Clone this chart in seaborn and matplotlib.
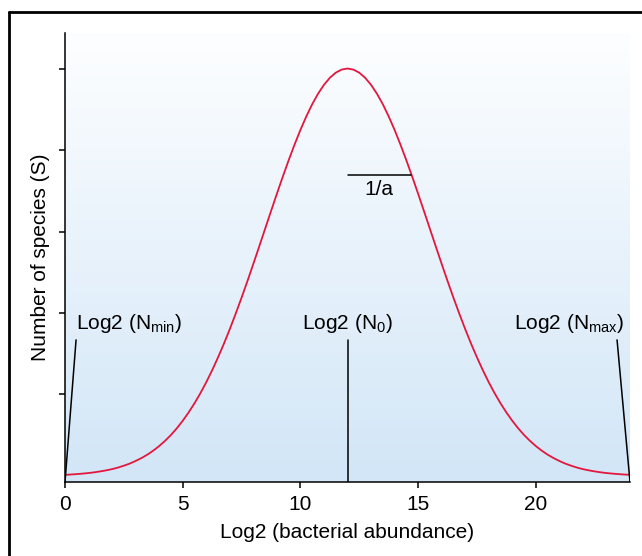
import numpy as np
import pandas as pd
import matplotlib
matplotlib.use("Agg")
import matplotlib.pyplot as plt
from matplotlib.colors import LinearSegmentedColormap
from matplotlib.lines import Line2D
import seaborn as sns

# Values (log2 abundance vs number of species)
log2_abundance = [
    0.0, 0.25, 0.5, 0.75, 1.0, 1.25, 1.5, 1.75, 2.0, 2.25, 2.5, 2.75,
    3.0, 3.25, 3.5, 3.75, 4.0, 4.25, 4.5, 4.75, 5.0, 5.25, 5.5, 5.75,
    6.0, 6.25, 6.5, 6.75, 7.0, 7.25, 7.5, 7.75, 8.0, 8.25, 8.5, 8.75,
    9.0, 9.25, 9.5, 9.75, 10.0, 10.25, 10.5, 10.75, 11.0, 11.25, 11.5, 11.75,
    12.0, 12.25, 12.5, 12.75, 13.0, 13.25, 13.5, 13.75, 14.0, 14.25, 14.5, 14.75,
    15.0, 15.25, 15.5, 15.75, 16.0, 16.25, 16.5, 16.75, 17.0, 17.25, 17.5, 17.75,
    18.0, 18.25, 18.5, 18.75, 19.0, 19.25, 19.5, 19.75, 20.0, 20.25, 20.5, 20.75,
    21.0, 21.25, 21.5, 21.75, 22.0, 22.25, 22.5, 22.75, 23.0, 23.25, 23.5, 23.75,
    24.0]
species = [
    0.014, 0.018, 0.023, 0.029, 0.036, 0.045, 0.056, 0.069, 0.084, 0.103, 0.126, 0.152,
    0.184, 0.220, 0.262, 0.311, 0.367, 0.431, 0.503, 0.585, 0.677, 0.779, 0.892, 1.015,
    1.150, 1.297, 1.455, 1.623, 1.802, 1.991, 2.188, 2.392, 2.603, 2.817, 3.033, 3.249,
    3.463, 3.672, 3.874, 4.066, 4.247, 4.412, 4.562, 4.691, 4.800, 4.886, 4.949, 4.987,
    5.000, 4.987, 4.949, 4.886, 4.800, 4.691, 4.562, 4.412, 4.247, 4.066, 3.874, 3.672,
    3.463, 3.249, 3.033, 2.817, 2.603, 2.392, 2.188, 1.991, 1.802, 1.623, 1.455, 1.297,
    1.150, 1.015, 0.892, 0.779, 0.677, 0.585, 0.503, 0.431, 0.367, 0.311, 0.262, 0.220,
    0.184, 0.152, 0.126, 0.103, 0.084, 0.069, 0.056, 0.045, 0.036, 0.029, 0.023, 0.018,
    0.014]
x_ticks = [0, 5, 10, 15, 20]
y_ticks = [1, 2, 3, 4, 5]
n_min, n0, n_max = 0.0, 12.0, 24.0
label_level = 1.67
slope_y = 3.69
slope_x_end = 14.7

sns.set_style("ticks")
plt.rcParams["font.family"] = ["Liberation Sans", "DejaVu Sans"]
plt.rcParams["mathtext.fontset"] = "custom"
plt.rcParams["mathtext.rm"] = "Liberation Sans"
plt.rcParams["mathtext.it"] = "Liberation Sans:italic"
plt.rcParams["text.color"] = "black"
plt.rcParams["axes.labelcolor"] = "black"
plt.rcParams["xtick.color"] = "black"
plt.rcParams["ytick.color"] = "black"

fig = plt.figure(figsize=(6.42, 5.56), dpi=100)
ax = fig.add_axes([65 / 642, 1 - 482 / 556, (630 - 65) / 642, (482 - 33) / 556])

ylo, yhi = -0.074, 5.436
xlo, xhi = 0, 24

# gradient background
cmap = LinearSegmentedColormap.from_list("bg", ["#d2e6f7", "#fdfeff"])
grad = np.linspace(0, 1, 256).reshape(-1, 1)
ax.imshow(grad, extent=[xlo, xhi, ylo, yhi], origin="lower", aspect="auto",
          cmap=cmap, zorder=0, interpolation="bicubic")

df = pd.DataFrame({"x": log2_abundance, "S": species})
sns.lineplot(data=df, x="x", y="S", ax=ax, color="#e3173e", linewidth=1.3, zorder=3)

# annotation lines
lc = "black"
ax.plot([n_min, 0.47], [ylo, label_level], color=lc, lw=1.1, zorder=4)
ax.plot([n0, n0], [ylo, label_level], color=lc, lw=1.1, zorder=4)
ax.plot([n_max, 23.45], [ylo, label_level], color=lc, lw=1.1, zorder=4)
ax.plot([n0, slope_x_end], [slope_y, slope_y], color=lc, lw=1.1, zorder=4)

fs = 15
ax.text(0.47, 1.87, r"Log2 (N$_{\rm min}$)", fontsize=fs, ha="left", va="center")
ax.text(n0, 1.87, r"Log2 (N$_{\rm 0}$)", fontsize=fs, ha="center", va="center")
ax.text(23.75, 1.87, r"Log2 (N$_{\rm max}$)", fontsize=fs, ha="right", va="center")
ax.text(13.35, 3.52, "1/a", fontsize=fs, ha="center", va="center")

ax.set_xlim(xlo, xhi)
ax.set_ylim(ylo, yhi)
ax.set_xticks(x_ticks)
ax.set_xticklabels([str(t) for t in x_ticks], fontsize=fs)
ax.set_yticks(y_ticks)
ax.set_yticklabels([])
ax.tick_params(axis="both", direction="out", length=4, width=1.1, color="black",
               labelcolor="black", pad=5)
for s in ["top", "right"]:
    ax.spines[s].set_visible(False)
for s in ["left", "bottom"]:
    ax.spines[s].set_color("black")
    ax.spines[s].set_linewidth(1.1)
ax.set_xlabel("Log2 (bacterial abundance)", fontsize=fs, labelpad=7, color="black")
ax.set_ylabel("Number of species (S)", fontsize=fs, labelpad=2, color="black")

# outer frame (top and left edges)
fig.add_artist(Line2D([9 / 642, 1.0], [1 - 12 / 556, 1 - 12 / 556], transform=fig.transFigure,
                      color="black", lw=2.0))
fig.add_artist(Line2D([9 / 642, 9 / 642], [0.0, 1 - 12 / 556], transform=fig.transFigure,
                      color="black", lw=2.0))

fig.savefig("out.png", dpi=100, facecolor="white")
